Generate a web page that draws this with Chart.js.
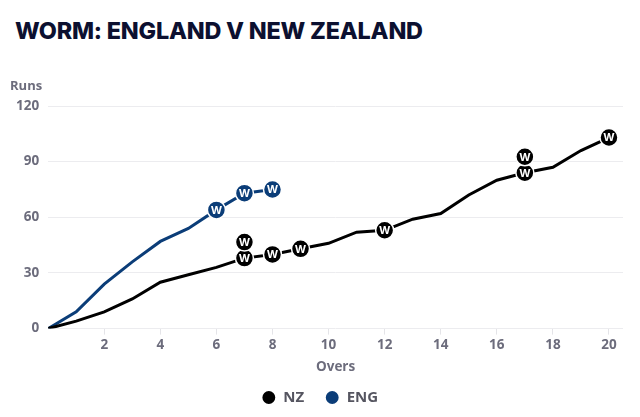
<!DOCTYPE html>
<html>
<head>
<meta charset="utf-8">
<script src="https://cdn.jsdelivr.net/npm/chart.js@4"></script>
<style>
  html, body { margin: 0; padding: 0; background: #fff; }
  #wrap { position: relative; width: 640px; height: 417px; }
  #title {
    position: absolute; left: 15px; top: 16px; margin: 0;
    font-family: Inter, "Open Sans", sans-serif; font-weight: 800; font-size: 23.4px;
    color: #0c1030; letter-spacing: -0.2px;
  }
  canvas { position: absolute; left: 0; top: 0; }
</style>
</head>
<body>
<div id="wrap">
  <h1 id="title">WORM: ENGLAND V NEW ZEALAND</h1>
  <canvas id="myChart" width="640" height="417"></canvas>
</div>
<script>
/* data */
const overs = [0, 1, 2, 3, 4, 5, 6, 7, 8, 9, 10, 11, 12, 13, 14, 15, 16, 17, 18, 19, 20];
const nzRuns = [0, 4, 9, 16, 25, 29, 33, 38, 40, 43, 46, 52, 53, 59, 62, 72, 80, 84, 87, 96, 103];
const engRuns = [0, 9, 24, 36, 47, 54, 64, 73, 75];
/* over in which each wicket fell (repeats = two wickets in one over) */
const nzWicketOvers = [7, 7, 8, 9, 12, 17, 17, 20];
const engWicketOvers = [6, 7, 8];
const runTicks = [0, 30, 60, 90, 120];
const overTicks = [2, 4, 6, 8, 10, 12, 14, 16, 18, 20];

const nzColor = '#000000';
const engColor = '#0b3d78';
const tickColor = '#6c6c7c';

function toPoints(runs){
  return runs.map(function(r, i){ return {x: overs[i], y: r}; });
}

/* draw the W markers on top of the lines */
const wicketPlugin = {
  id: 'wickets',
  afterDatasetsDraw: function(chart){
    const ctx = chart.ctx;
    chart.data.datasets.forEach(function(ds, di){
      const meta = chart.getDatasetMeta(di);
      const seen = {};
      ds.wickets.forEach(function(over){
        const pt = meta.data[over];
        if(!pt) return;
        const k = seen[over] || 0;
        seen[over] = k + 1;
        const x = pt.x, y = pt.y - k * 16;
        ctx.save();
        ctx.beginPath();
        ctx.arc(x, y, 9, 0, Math.PI * 2);
        ctx.fillStyle = ds.borderColor;
        ctx.fill();
        ctx.lineWidth = 1.5;
        ctx.strokeStyle = '#fff';
        ctx.stroke();
        ctx.fillStyle = '#fff';
        ctx.font = 'bold 11px Inter, sans-serif';
        ctx.textAlign = 'center';
        ctx.textBaseline = 'middle';
        ctx.fillText('W', x, y + 0.5);
        ctx.restore();
      });
    });
  },
  afterDraw: function(chart){
    const ctx = chart.ctx;
    ctx.save();
    ctx.font = 'bold 13px "Open Sans", sans-serif';
    ctx.fillStyle = tickColor;
    ctx.textAlign = 'left';
    ctx.textBaseline = 'middle';
    ctx.fillText('Runs', 10, chart.chartArea.top - 20);
    ctx.restore();
  }
};

const ctx = document.getElementById('myChart').getContext('2d');
const chart = new Chart(ctx, {
  type: 'line',
  data: {
    datasets: [{
      label: 'NZ',
      data: toPoints(nzRuns),
      wickets: nzWicketOvers,
      borderColor: nzColor,
      backgroundColor: nzColor,
      borderWidth: 3,
      pointRadius: 0,
      tension: 0,
    },
    {
      label: 'ENG',
      data: toPoints(engRuns),
      wickets: engWicketOvers,
      borderColor: engColor,
      backgroundColor: engColor,
      borderWidth: 3,
      pointRadius: 0,
      tension: 0,
    }],
  },
  options: {
    responsive: false,
    animation: false,
    layout: { padding: { top: 106, left: 17, right: 17, bottom: 2 } },
    plugins: {
      legend: {
        position: 'bottom',
        labels: {
          usePointStyle: true,
          pointStyle: 'circle',
          boxWidth: 14,
          boxHeight: 7,
          padding: 21,
          color: '#555560',
          font: { family: '"Open Sans", sans-serif', size: 15, weight: 'bold' },
        },
      },
      tooltip: { enabled: false },
    },
    scales: {
      x: {
        type: 'linear',
        min: 0,
        max: 20.5,
        afterBuildTicks: function(axis){
          axis.ticks = overTicks.map(function(v){ return {value: v}; });
        },
        grid: { drawOnChartArea: false, drawTicks: true, tickLength: 6, color: '#e4e4e8' },
        border: { display: false },
        ticks: {
          color: tickColor,
          padding: 2,
          font: { family: '"Open Sans", sans-serif', size: 13.5, weight: 'bold' },
        },
        title: {
          display: true,
          text: 'Overs',
          color: tickColor,
          padding: { top: 4, bottom: -6 },
          font: { family: '"Open Sans", sans-serif', size: 13.5, weight: 'bold' },
        },
      },
      y: {
        min: 0,
        max: 120,
        afterBuildTicks: function(axis){
          axis.ticks = runTicks.map(function(v){ return {value: v}; });
        },
        afterFit: function(axis){
          axis.width -= 10;
        },
        grid: { color: '#ececef', drawTicks: false, lineWidth: 1 },
        border: { display: false },
        ticks: {
          color: tickColor,
          padding: 9,
          font: { family: '"Open Sans", sans-serif', size: 13.5, weight: 'bold' },
        },
      },
    },
  },
  plugins: [wicketPlugin],
});
</script>
</body>
</html>
